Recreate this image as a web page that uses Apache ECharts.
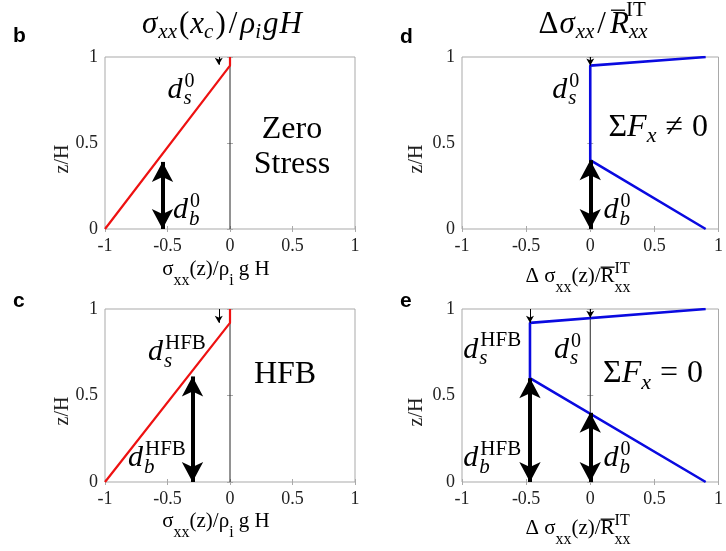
<!DOCTYPE html>
<html>
<head>
<meta charset="utf-8">
<script src="https://cdn.jsdelivr.net/npm/echarts@6/dist/echarts.min.js"></script>
<style>
  html, body { margin: 0; padding: 0; background: #fff; }
  #chart { width: 726px; height: 551px; }
</style>
</head>
<body>
<div id="chart"></div>
<script>
// ---- tick values ----
const xTicks = [-1, -0.5, 0, 0.5, 1];
const zTicks = [0, 0.5, 1];

// ---- stress profiles sigma_xx / rho_i g H (red) ----
const stressZero = [[-1, 0], [0, 0.95], [0, 1]];
const stressHFB = [[-1, 0], [0, 0.92], [0, 1]];

// ---- stress perturbation profiles (blue) ----
const deltaUnbalanced = [[0.9, 0], [0, 0.4], [0, 0.95], [0.9, 1]];
const deltaBalanced = [[0.9, 0], [-0.47, 0.6], [-0.47, 0.92], [0.9, 1]];

// zero reference line
const zeroLine = [[0, 0], [0, 1]];

// basal crevasse arrows: [x, top of arrow]
const basalB = [[-0.54, 0.39]];
const basalC = [[-0.3, 0.61]];
const basalD = [[0, 0.4]];
const basalE = [[-0.47, 0.6], [0, 0.4]];

// surface crevasse markers: [x, tip depth]
const surfaceB = [[-0.09, 0.955]];
const surfaceC = [[-0.09, 0.92]];
const surfaceD = [[0, 0.95]];
const surfaceE = [[-0.47, 0.92], [0, 0.95]];

// crevasse depth labels: [subscript, superscript, x, z]
const depthLabelsB = [['s', '0', -0.5, 0.75], ['b', '0', -0.456, 0.05]];
const depthLabelsC = [['s', 'HFB', -0.656, 0.69], ['b', 'HFB', -0.816, 0.08]];
const depthLabelsD = [['s', '0', -0.297, 0.75], ['b', '0', 0.104, 0.05]];
const depthLabelsE = [['s', 'HFB', -0.99, 0.705], ['s', '0', -0.282, 0.705],
                      ['b', 'HFB', -0.99, 0.08], ['b', '0', 0.104, 0.08]];

const SERIF = '"Liberation Serif", "Times New Roman", serif';
const SANS = '"Liberation Sans", Arial, sans-serif';
const FRAME = '#a9a9a9';
const RED = '#ee1111';
const BLUE = '#0a0ae0';

const grids = [
  { left: 105, top: 57, width: 250, height: 172 },   // b
  { left: 105, top: 309, width: 250, height: 173 },  // c
  { left: 462, top: 57, width: 259, height: 172 },   // d
  { left: 462, top: 309, width: 259, height: 173 }   // e
];

function xAxisFor(i, pos) {
  return {
    type: 'value', gridIndex: i, position: pos, min: -1, max: 1, interval: 0.5,
    axisLine: { show: false },
    axisTick: { show: true, inside: true, length: 3, lineStyle: { color: FRAME } },
    splitLine: { show: false },
    axisLabel: {
      show: pos === 'bottom', margin: 8, fontSize: 18, fontFamily: SERIF, color: '#222',
      formatter: v => xTicks.includes(v) ? String(v) : ''
    }
  };
}
function yAxisFor(i, pos) {
  return {
    type: 'value', gridIndex: i, position: pos, min: 0, max: 1, interval: 0.5,
    axisLine: { show: false },
    axisTick: { show: true, inside: true, length: 3, lineStyle: { color: FRAME } },
    splitLine: { show: false },
    axisLabel: {
      show: pos === 'left', margin: 7, fontSize: 18, fontFamily: SERIF, color: '#222',
      formatter: v => zTicks.includes(v) ? String(v) : ''
    }
  };
}

const xAxes = [], yAxes = [];
for (let i = 0; i < 4; i++) { xAxes.push(xAxisFor(i, 'bottom')); yAxes.push(yAxisFor(i, 'left')); }
for (let i = 0; i < 4; i++) { xAxes.push(xAxisFor(i, 'top')); yAxes.push(yAxisFor(i, 'right')); }

function profile(i, data, color, width) {
  return {
    type: 'line', xAxisIndex: i, yAxisIndex: i, data, symbol: 'none',
    lineStyle: { color, width }, z: 3, silent: true
  };
}
function refLine(i) {
  return {
    type: 'line', xAxisIndex: i, yAxisIndex: i, data: zeroLine, symbol: 'none',
    lineStyle: { color: '#262626', width: 1 }, z: 2, silent: true
  };
}
function basalArrows(i, arrows) {
  return {
    type: 'line', xAxisIndex: i, yAxisIndex: i, data: [], z: 4, silent: true,
    markLine: {
      silent: true, animation: false,
      symbol: ['arrow', 'arrow'], symbolSize: [16, 20],
      lineStyle: { color: '#000', width: 4, type: 'solid' },
      label: { show: false },
      data: arrows.map(([x, z]) => [{ coord: [x, 0] }, { coord: [x, z] }])
    }
  };
}
function surfaceArrows(i, marks) {
  return {
    type: 'line', xAxisIndex: i, yAxisIndex: i, data: [], z: 4, silent: true,
    markLine: {
      silent: true, animation: false,
      symbol: ['none', 'arrow'], symbolSize: [6, 7],
      lineStyle: { color: '#000', width: 1, type: 'solid' },
      label: { show: false },
      data: marks.map(([x, z]) => [{ coord: [x, 1] }, { coord: [x, z] }])
    }
  };
}

const option = {
  animation: false,
  backgroundColor: '#fff',
  grid: grids.map(g => Object.assign({ show: true, borderColor: FRAME, borderWidth: 1, backgroundColor: '#fff' }, g)),
  xAxis: xAxes,
  yAxis: yAxes,
  series: [
    refLine(0), profile(0, stressZero, RED, 2.2), basalArrows(0, basalB), surfaceArrows(0, surfaceB),
    refLine(1), profile(1, stressHFB, RED, 2.2), basalArrows(1, basalC), surfaceArrows(1, surfaceC),
    refLine(2), profile(2, deltaUnbalanced, BLUE, 2.6), basalArrows(2, basalD), surfaceArrows(2, surfaceD),
    refLine(3), profile(3, deltaBalanced, BLUE, 2.6), basalArrows(3, basalE), surfaceArrows(3, surfaceE)
  ]
};

const chart = echarts.init(document.getElementById('chart'), null, { renderer: 'canvas' });
chart.setOption(option);

// ---- typeset text built from pieces (sub/superscripts) ----
const mctx = document.createElement('canvas').getContext('2d');
function fontOf(p) { return (p.i ? 'italic ' : '') + (p.b ? 'bold ' : '') + p.s + 'px ' + (p.f || SERIF); }
function widthOf(p) { mctx.font = fontOf(p); return mctx.measureText(p.t).width; }

// pieces: {t, s, i, dy, dx, stack, over}; baseline at y.
function typeset(pieces, x, y, align) {
  const placed = [];
  let cursor = 0, lastStart = 0;
  pieces.forEach(p => {
    const w = widthOf(p);
    const start = (p.stack ? lastStart : cursor) + (p.dx || 0);
    placed.push({ p, start, w });
    lastStart = start;
    cursor = Math.max(cursor, start + w);
  });
  const total = cursor;
  const x0 = align === 'center' ? x - total / 2 : x;
  const els = [];
  placed.forEach(({ p, start, w }) => {
    const base = y + (p.dy || 0);
    els.push({
      type: 'text', x: x0 + start, y: base - 0.3375 * p.s, silent: true, z: 10,
      style: { text: p.t, font: fontOf(p), fill: p.color || '#000', align: 'left', verticalAlign: 'middle' }
    });
    if (p.over) {
      const ox = p.overX !== undefined ? p.overX : 0.12 * p.s;
      const ow = p.overW !== undefined ? p.overW : w;
      els.push({
        type: 'line', silent: true, z: 10,
        shape: { x1: x0 + start + ox, y1: base - 0.8 * p.s, x2: x0 + start + ox + ow, y2: base - 0.8 * p.s },
        style: { stroke: '#000', lineWidth: 1.3 }
      });
    }
  });
  return els;
}

const graphics = [];
const px = (i, x, z) => chart.convertToPixel({ gridIndex: i }, [x, z]);

// panel letters
[['b', 13, 43], ['c', 13, 308], ['d', 400, 44], ['e', 400, 308]].forEach(([t, x, y]) => {
  graphics.push(...typeset([{ t, s: 21, b: true, f: SANS }], x, y, 'left'));
});

// panel titles
graphics.push(...typeset([
  { t: 'σ', s: 31, i: true }, { t: 'xx', s: 21, i: true, dy: 5, dx: 1 },
  { t: '(', s: 31, dx: 2 }, { t: 'x', s: 31, i: true, dx: 1 }, { t: 'c', s: 21, i: true, dy: 5 },
  { t: ')', s: 31, dx: 2 }, { t: '/', s: 31, dx: 3 }, { t: 'ρ', s: 31, i: true, dx: 3 },
  { t: 'i', s: 21, i: true, dy: 5 }, { t: 'g', s: 31, i: true, dx: 2 }, { t: 'H', s: 31, i: true, dx: 1 }
], 222, 35, 'center'));
graphics.push(...typeset([
  { t: 'Δ', s: 31 }, { t: 'σ', s: 31, i: true, dx: 1 }, { t: 'xx', s: 21, i: true, dy: 5, dx: 1 },
  { t: '/', s: 31, dx: 3 }, { t: 'R', s: 31, i: true, dx: 4, over: true, overX: 1, overW: 14 },
  { t: 'xx', s: 21, i: true, dy: 5, dx: 0 }, { t: 'IT', s: 21, dy: -17, stack: true, dx: -3 }
], 593, 35, 'center'));

// x-axis names
function sigmaName(y) {
  return typeset([
    { t: 'σ', s: 21 }, { t: 'xx', s: 16, dy: 9 }, { t: '(z)/', s: 21 },
    { t: 'ρ', s: 21 }, { t: 'i', s: 16, dy: 9 }, { t: ' g H', s: 21 }
  ], 216, y, 'center');
}
function deltaName(y) {
  return typeset([
    { t: 'Δ σ', s: 21 }, { t: 'xx', s: 16, dy: 9 }, { t: '(z)/', s: 21 },
    { t: 'R', s: 21, over: true, overX: 0 }, { t: 'xx', s: 16, dy: 9 }, { t: 'IT', s: 16, dy: -10, stack: true }
  ], 578, y, 'center');
}
graphics.push(...sigmaName(277), ...sigmaName(529), ...deltaName(284), ...deltaName(536));

// y-axis names
[[63, 159], [63, 411], [417, 159], [417, 412]].forEach(([x, y]) => {
  graphics.push({
    type: 'text', x, y, rotation: Math.PI / 2, silent: true, z: 10,
    style: { text: 'z/H', font: '20px ' + SERIF, fill: '#222', align: 'center', verticalAlign: 'middle' }
  });
});

// crevasse depth labels
function depthLabel(i, [sub, sup, x, z]) {
  const [cx, cy] = px(i, x, z);
  const supSize = sup === '0' ? 20 : 21;
  return typeset([
    { t: 'd', s: 30, i: true },
    { t: sup, s: supSize, dy: -12, dx: 2 },
    { t: sub, s: 21, i: true, dy: 6, stack: true, dx: -1 }
  ], cx, cy, 'left');
}
depthLabelsB.forEach(l => graphics.push(...depthLabel(0, l)));
depthLabelsC.forEach(l => graphics.push(...depthLabel(1, l)));
depthLabelsD.forEach(l => graphics.push(...depthLabel(2, l)));
depthLabelsE.forEach(l => graphics.push(...depthLabel(3, l)));

// in-panel annotations (centred at a data position)
function centred(i, x, z, pieces, size) {
  const [cx, cy] = px(i, x, z);
  return typeset(pieces, cx, cy + 0.33 * size, 'center');
}
graphics.push(...centred(0, 0.496, 0.576, [{ t: 'Zero', s: 32 }], 32));
graphics.push(...centred(0, 0.496, 0.372, [{ t: 'Stress', s: 32 }], 32));
graphics.push(...centred(1, 0.44, 0.62, [{ t: 'HFB', s: 32 }], 32));
graphics.push(...centred(2, 0.53, 0.59, [
  { t: 'Σ', s: 32 }, { t: 'F', s: 32, i: true }, { t: 'x', s: 22, i: true, dy: 6 },
  { t: '≠', s: 32, dx: 9 }, { t: '0', s: 32, dx: 9 }
], 32));
graphics.push(...centred(3, 0.49, 0.624, [
  { t: 'Σ', s: 32 }, { t: 'F', s: 32, i: true }, { t: 'x', s: 22, i: true, dy: 6 },
  { t: '=', s: 32, dx: 9 }, { t: '0', s: 32, dx: 9 }
], 32));

chart.setOption({ graphic: graphics });
</script>
</body>
</html>
